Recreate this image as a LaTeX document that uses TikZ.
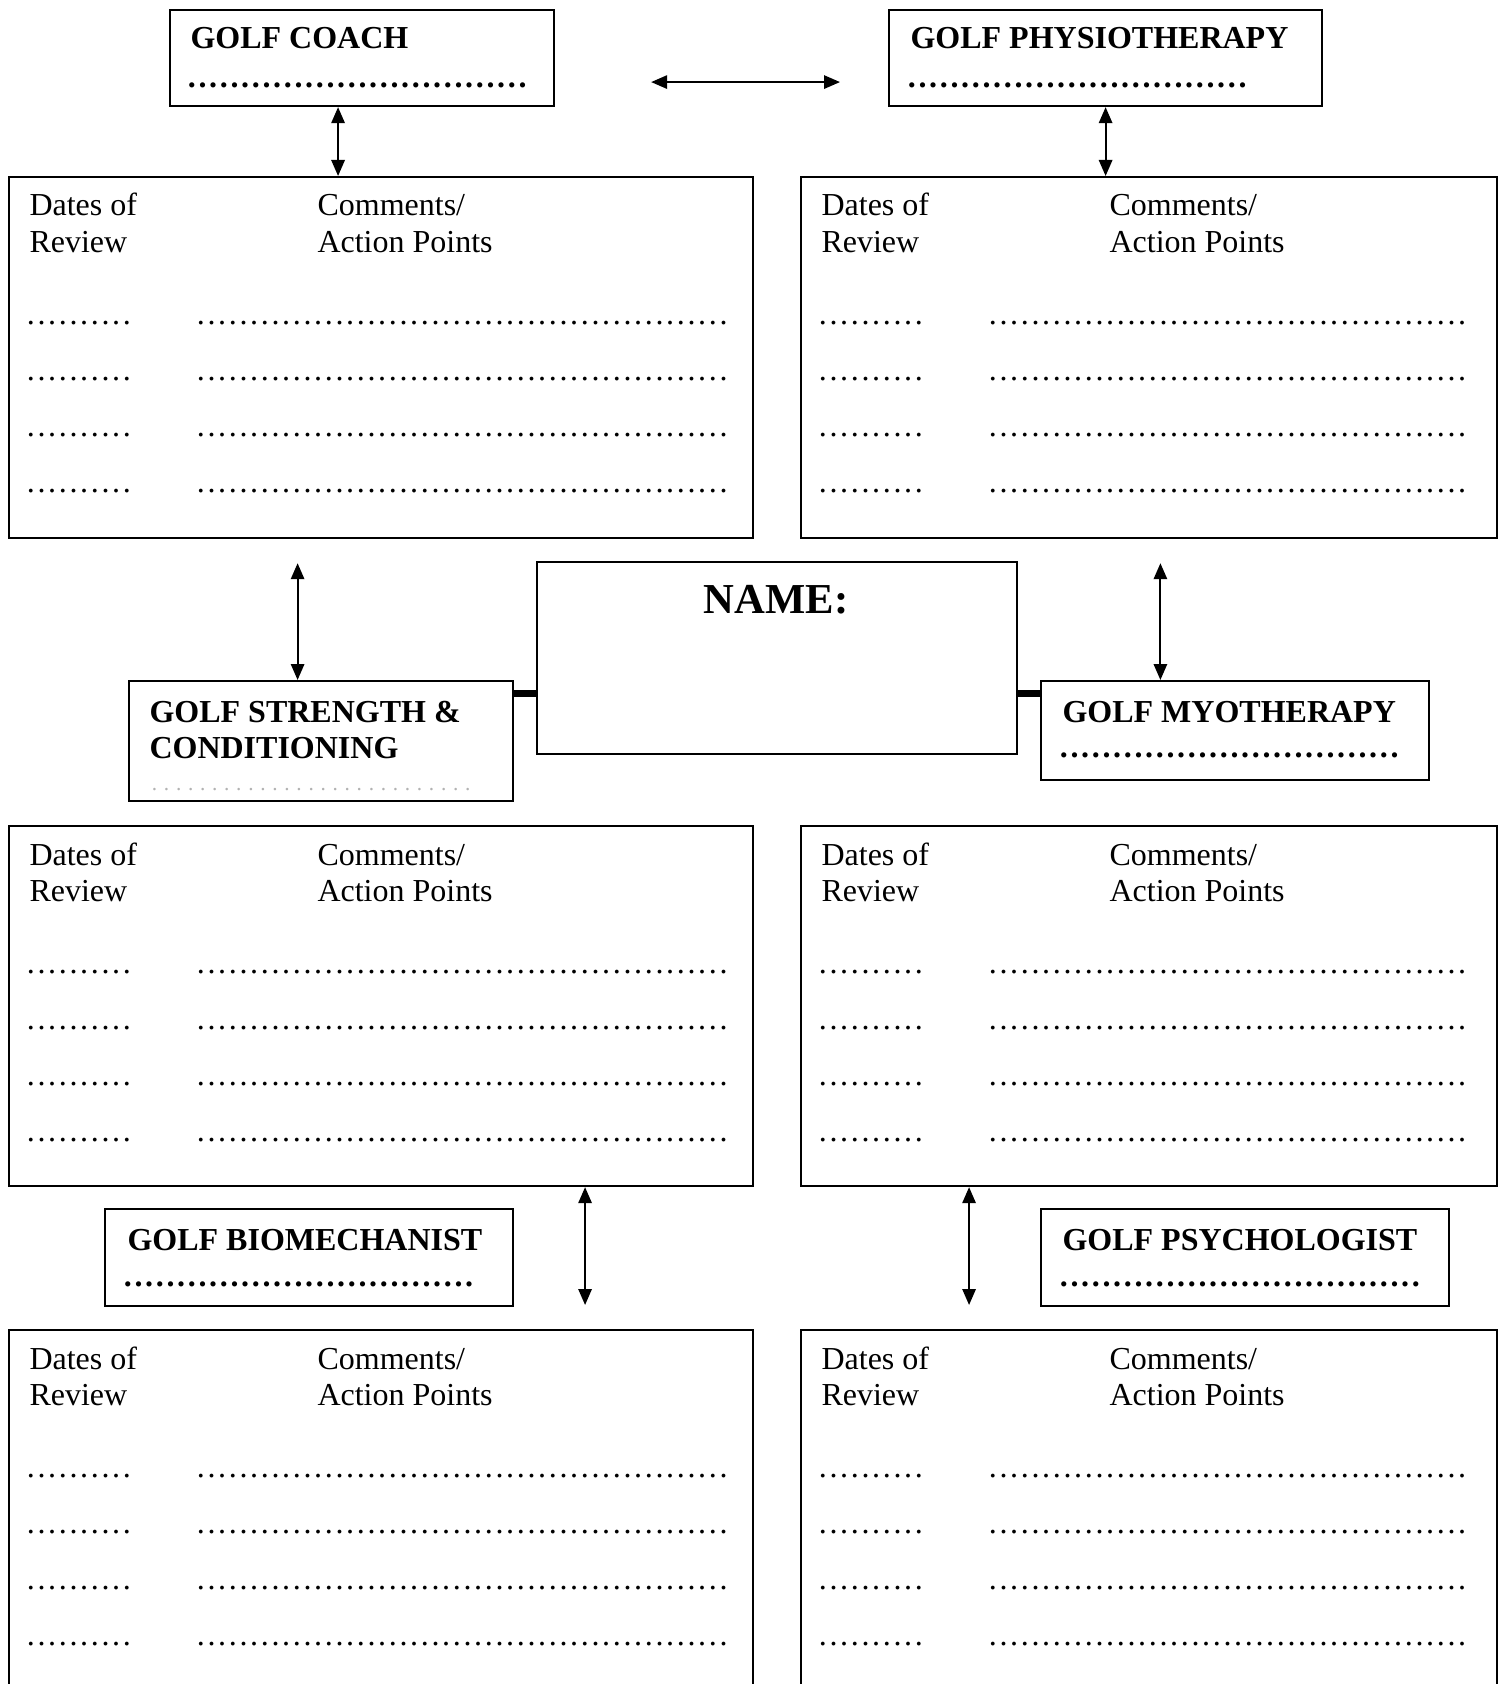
\documentclass[tikz,border=0pt]{standalone}
\usepackage{fontspec}
\setmainfont{Liberation Serif}
\usetikzlibrary{arrows.meta,calc}

\newcommand{\dotrow}[2][4pt]{\hbox to #2{\xleaders\hbox to #1{\hss.\hss}\hfill}}

\begin{document}
\begin{tikzpicture}[x=0.375pt, y=-0.375pt,
  box/.style={draw, line width=0.8pt, anchor=north west, inner sep=0},
  txt/.style={anchor=base west, inner sep=0, font=\fontsize{12}{14}\selectfont},
  head/.style={anchor=base west, inner sep=0, font=\fontsize{12}{14}\selectfont\bfseries},
  twoway/.style={{Triangle[length=6pt,width=5pt]}-{Triangle[length=6pt,width=5pt]}, line width=0.75pt},
  link/.style={line width=2.6pt}]
\clip (0,0) rectangle (1504,1684);

% review boxes
\foreach \n/\x/\y/\w/\h/\d in {rev1/8/176/279/135.4/200, rev2/800/176/261/135.4/180,
    rev3/8/825/279/135/200, rev4/800/825/261/135/180,
    rev5/8/1329/279/150/200, rev6/800/1329/261/150/180} {
  \node[box, minimum width=\w pt, minimum height=\h pt] (\n) at (\x,\y) {};
  \node[txt] at ($(\n.north west)+(21,40)$) {Dates of};
  \node[txt] at ($(\n.north west)+(21,76)$) {Review};
  \node[txt] at ($(\n.north west)+(309,40)$) {Comments/};
  \node[txt] at ($(\n.north west)+(309,76)$) {Action Points};
  \foreach \r in {148,204,260,316} {
    \node[txt] at ($(\n.north west)+(17,\r)$) {\dotrow{40pt}};
    \node[txt] at ($(\n.north west)+(187,\r)$) {\dotrow{\d pt}};
  }
}

% people
\node[box, minimum width=144pt, minimum height=36pt] (coach) at (169,9) {};
\node[head] at (190,49) {GOLF COACH};
\node[head] at (186,88) {\dotrow{128pt}};

\node[box, minimum width=162.4pt, minimum height=36pt] (physio) at (888,9) {};
\node[head] at (910,49) {GOLF PHYSIOTHERAPY};
\node[head] at (906,88) {\dotrow{128pt}};

\node[box, minimum width=180pt, minimum height=72pt] (name) at (536,561) {};
\node[anchor=base, inner sep=0, font=\fontsize{16}{18}\selectfont\bfseries] at (776,613) {NAME:};

\node[box, minimum width=144pt, minimum height=45pt] (sc) at (128,680) {};
\node[head] at (149,722) {GOLF STRENGTH \&};
\node[head] at (149,758) {CONDITIONING};
\node[txt, font=\fontsize{8}{10}\selectfont, text=gray!60] at (148,790) {\dotrow[4.5pt]{122pt}};

\node[box, minimum width=145.5pt, minimum height=37.1pt] (myo) at (1040,680) {};
\node[head] at (1062,722) {GOLF MYOTHERAPY};
\node[head] at (1058,757) {\dotrow{128pt}};

\node[box, minimum width=153pt, minimum height=36.4pt] (bio) at (104,1208) {};
\node[head] at (127,1250) {GOLF BIOMECHANIST};
\node[head] at (122,1286) {\dotrow{132pt}};

\node[box, minimum width=153pt, minimum height=36.4pt] (psych) at (1040,1208) {};
\node[head] at (1062,1250) {GOLF PSYCHOLOGIST};
\node[head] at (1058,1286) {\dotrow{136pt}};

% connectors
\coordinate (c1) at ([xshift=-9pt]coach.south);
\draw[twoway] (c1) -- (c1 |- rev1.north);
\draw[twoway] (physio.south) -- (physio.south |- rev2.north);
\coordinate (h1) at ([yshift=-9pt]coach.east);
\draw[twoway, shorten <=36pt, shorten >=18pt] (h1) -- (h1 -| physio.west);
\coordinate (m1) at ([xshift=-8.8pt]sc.north);
\draw[twoway, shorten >=9pt] (m1) -- (m1 |- rev1.south);
\coordinate (m2) at ([xshift=-28pt]myo.north);
\draw[twoway, shorten >=9pt] (m2) -- (m2 |- rev2.south);
\coordinate (l1) at ([xshift=76.5pt]rev3.south);
\draw[twoway, shorten >=9pt] (l1) -- (l1 |- rev5.north);
\coordinate (l2) at ([xshift=-67.5pt]rev4.south);
\draw[twoway, shorten >=9pt] (l2) -- (l2 |- rev6.north);
\coordinate (k1) at ([yshift=18pt]sc.east);
\draw[link] (k1) -- (k1 -| name.west);
\coordinate (k2) at ([yshift=14pt]myo.west);
\draw[link] (k2) -- (k2 -| name.east);
\end{tikzpicture}
\end{document}
